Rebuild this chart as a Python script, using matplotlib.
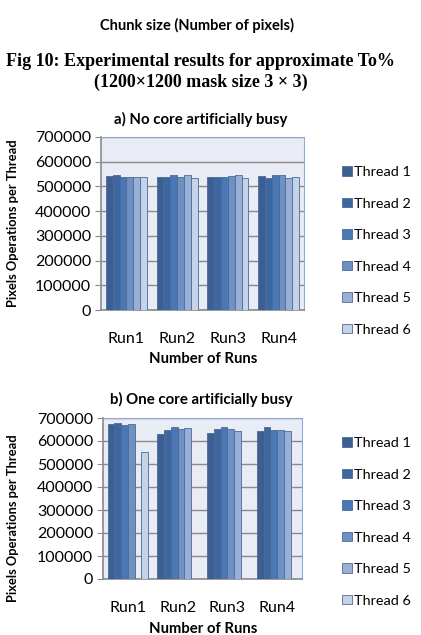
import numpy as np
import matplotlib
matplotlib.use('Agg')
import matplotlib.pyplot as plt

# data
runs = ['Run1', 'Run2', 'Run3', 'Run4']
threads = ['Thread 1', 'Thread 2', 'Thread 3', 'Thread 4', 'Thread 5', 'Thread 6']

# a) no core busy, one row per thread, values for Run1..Run4
no_busy = [
    [542500, 537000, 537000, 541000],
    [545000, 540000, 537000, 535500],
    [540000, 547000, 538500, 547000],
    [537000, 538500, 542500, 547000],
    [537000, 545000, 545000, 532500],
    [537000, 534000, 535500, 540000],
]
# b) one core busy
one_busy = [
    [674000, 632000, 635000, 645000],
    [678000, 648000, 651000, 660000],
    [668000, 660000, 660000, 648000],
    [674000, 651000, 654000, 648000],
    [0, 656000, 645000, 645000],
    [552000, 0, 0, 0],
]

colors = ['#3b5f92', '#3e66a0', '#4a77b6', '#6f90c3', '#98b0d7', '#c3d3ea']
edge = '#4d6a93'
bg = '#e9ecf5'

plt.rcParams['font.family'] = 'Lato'

fig = plt.figure(figsize=(4.21, 6.35), dpi=100)

fig.text(197/421, 1-25/635, 'Chunk size (Number of pixels)', ha='center', va='center',
         fontsize=10.5, fontweight='bold')
fig.text(201/421, 1-62/635, 'Fig 10: Experimental results for approximate To%', ha='center',
         va='center', fontsize=13, fontweight='bold', family='Liberation Serif')
fig.text(201/421, 1-82/635, '(1200\u00d71200 mask size 3 \u00d7 3)', ha='center',
         va='center', fontsize=13, fontweight='bold', family='Liberation Serif')


def draw(rect, data, title, title_y, ylab_y, legend_y, run_y, xlab_y):
    ax = fig.add_axes(rect)
    ax.set_facecolor(bg)
    x = np.arange(len(runs))
    w = 0.135
    for i, t in enumerate(threads):
        ax.bar(x + (i - 2.5) * w, data[i], w, color=colors[i], edgecolor=edge,
               linewidth=0.6, label=t, zorder=3)
    ax.set_xlim(-0.5, 3.5)
    ax.set_ylim(0, 700000)
    ax.set_yticks(np.arange(0, 700001, 100000))
    ax.set_yticklabels([str(v) for v in range(0, 700001, 100000)], fontsize=11.5)
    ax.yaxis.grid(True, color='#8a8a8a', linewidth=1.0, zorder=0)
    ax.set_xticks([])
    for s in ['top', 'right']:
        ax.spines[s].set_color('#8eaadb')
    for s in ['left', 'bottom']:
        ax.spines[s].set_color('#8a8a8a')
        ax.spines[s].set_linewidth(1.2)
    ax.tick_params(axis='y', length=4, color='#8a8a8a', pad=3)
    # run labels at their absolute height on the page
    ry = ax.transAxes.inverted().transform(fig.transFigure.transform((0, 1 - run_y/635)))[1]
    for xi, r in zip(x, runs):
        ax.text(xi, ry, r, transform=ax.get_xaxis_transform(), fontsize=11.5,
                ha='center', va='center')
    fig.text(201/421, 1-title_y/635, title, ha='center', va='center',
             fontsize=10.8, fontweight='bold')
    fig.text(203/421, 1-xlab_y/635, 'Number of Runs', ha='center', va='center',
             fontsize=10.7, fontweight='bold')
    fig.text(13/421, 1-ylab_y/635, 'Pixels Operations per Thread', ha='center',
             va='center', rotation=90, fontsize=9.3, fontweight='bold')
    ax.legend(loc='center left', bbox_to_anchor=(335/421, 1-legend_y/635),
              bbox_transform=fig.transFigure, frameon=False, fontsize=10.4,
              labelspacing=1.35, handlelength=0.65, handleheight=0.65,
              handletextpad=0.2, borderpad=0)
    return ax


draw([101/421, 1-310/635, 203/421, 173/635], no_busy,
     'a) No core artificially busy', 119, 223, 251, 339, 359)
draw([103/421, 1-579/635, 199/421, 161/635], one_busy,
     'b) One core artificially busy', 399, 518, 522, 608, 629)

fig.savefig('out.png', dpi=100)
